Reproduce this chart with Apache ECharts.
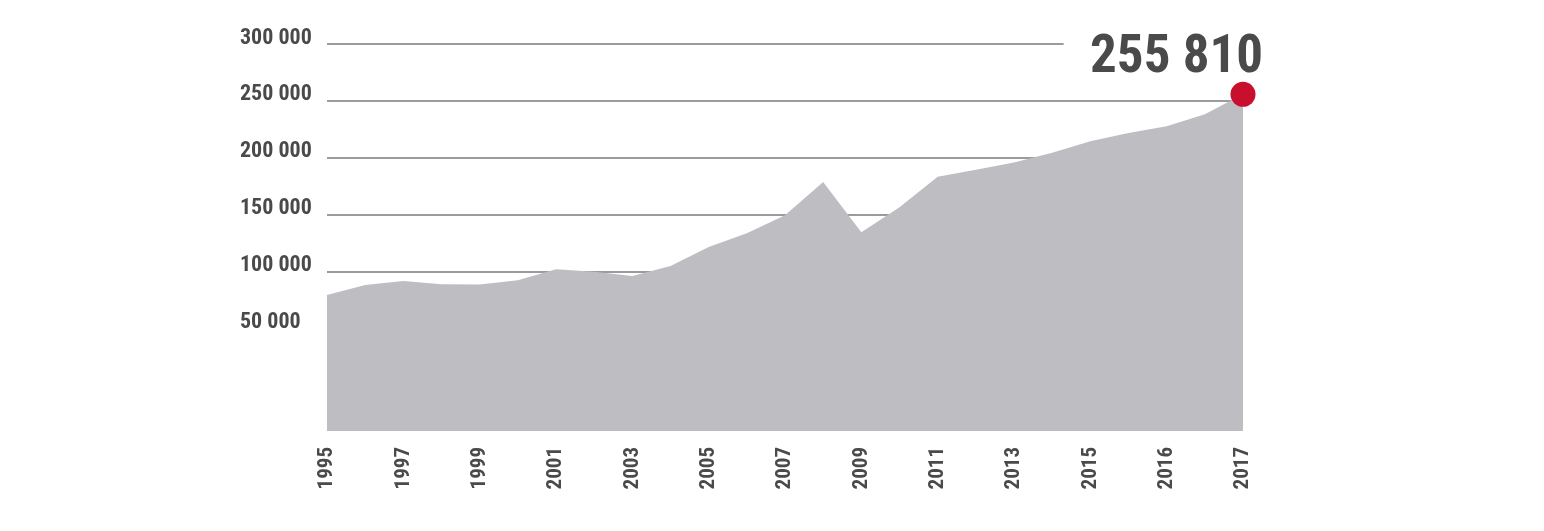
<!DOCTYPE html>
<html>
<head>
<meta charset="utf-8">
<script src="https://cdn.jsdelivr.net/npm/echarts@6/dist/echarts.min.js"></script>
<style>
  html, body { margin: 0; padding: 0; background: #fff; }
  #chart { width: 1544px; height: 531px; }
</style>
</head>
<body>
<div id="chart"></div>
<script>
// one point per step, labels every other step
const values = [79500, 88200, 91700, 88900, 88800, 92400, 102000, 99800, 96200, 105000,
  121600, 133700, 149600, 178800, 134700, 156600, 183300, 189600, 195800, 204400,
  214600, 221900, 227800, 238200, 255810];
const tickLabels = ['1995', '1997', '1999', '2001', '2003', '2005', '2007', '2009',
  '2011', '2013', '2015', '2016', '2017'];
const yTicks = [50000, 100000, 150000, 200000, 250000, 300000];
const gridValues = [100000, 150000, 200000, 250000];

const FONT = '"Roboto Condensed", "Open Sans Condensed", "DejaVu Sans Condensed", sans-serif';
const TEXT = '#4a4a4a';

const fmt = v => String(v).replace(/\B(?=(\d{3})+(?!\d))/g, ' ');

const last = values.length - 1;
const seriesData = values.map((v, i) => {
  if (i !== last) return [i, v];
  return {
    value: [i, v],
    symbol: 'circle',
    symbolSize: 25,
    itemStyle: { color: '#c8102e' },
    label: {
      show: true,
      position: 'top',
      distance: 0,
      align: 'right',
      offset: [20, 3],
      formatter: p => fmt(p.value[1]),
      fontFamily: FONT,
      fontWeight: 'bold',
      fontSize: 53,
      lineHeight: 53,
      color: TEXT
    }
  };
});

// gridlines under the area; the top one stops short of the big label
const gridLines = gridValues.map(v => [{ coord: [0, v] }, { coord: [last, v] }]);
gridLines.push([{ coord: [0, 300000] }, { coord: [19.3, 300000] }]);

const chart = echarts.init(document.getElementById('chart'));

const option = {
  animation: false,
  grid: { left: 327, right: 301, top: 44, bottom: 100 },
  xAxis: {
    type: 'value',
    min: 0,
    max: last,
    interval: 2,
    axisLine: { show: false },
    axisTick: { show: false },
    splitLine: { show: false },
    axisLabel: {
      rotate: 90,
      margin: 16,
      fontFamily: FONT,
      fontWeight: 'bold',
      fontSize: 21,
      color: TEXT,
      formatter: v => tickLabels[v / 2] || ''
    }
  },
  yAxis: {
    type: 'value',
    min: -40000,
    max: 300000,
    axisLine: { show: false },
    axisTick: { show: false },
    splitLine: { show: false },
    axisLabel: {
      customValues: yTicks,
      margin: 87,
      align: 'left',
      verticalAlign: 'bottom',
      lineHeight: 12,
      fontFamily: FONT,
      fontWeight: 'bold',
      fontSize: 22,
      color: TEXT,
      formatter: v => fmt(v)
    }
  },
  series: [
    {
      type: 'line',
      data: [],
      silent: true,
      markLine: {
        z: 1,
        silent: true,
        symbol: 'none',
        label: { show: false },
        lineStyle: { color: '#7a7a7a', width: 1.5, type: 'solid' },
        data: gridLines
      }
    },
    {
      type: 'line',
      z: 2,
      data: seriesData,
      clip: false,
      symbol: 'none',
      showSymbol: true,
      lineStyle: { width: 0 },
      areaStyle: { color: '#bebdc2', opacity: 1, origin: 'start' },
      silent: true
    }
  ]
};

chart.setOption(option);
window.addEventListener('resize', () => chart.resize());
</script>
</body>
</html>
